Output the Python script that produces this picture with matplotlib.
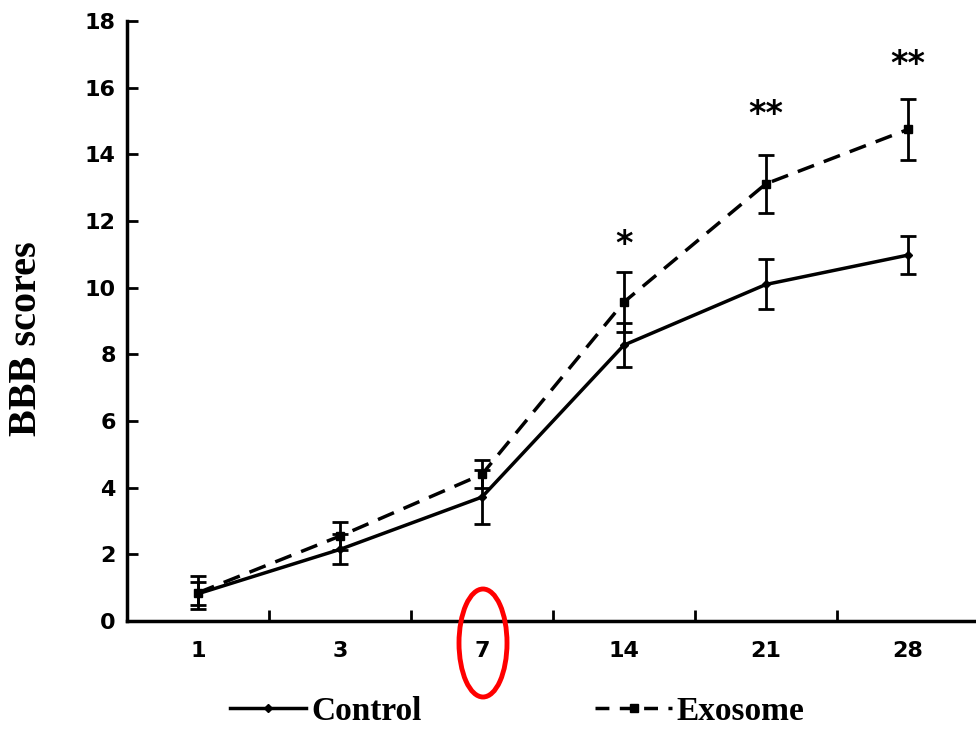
import matplotlib.pyplot as plt
from matplotlib.patches import Ellipse
from matplotlib.lines import Line2D

# Data
days = ['1', '3', '7', '14', '21', '28']
control = [0.82, 2.15, 3.72, 8.28, 10.1, 10.98]
control_err = [0.35, 0.45, 0.8, 0.65, 0.75, 0.58]
exosome = [0.85, 2.55, 4.4, 9.57, 13.12, 14.75]
exosome_err = [0.5, 0.42, 0.42, 0.9, 0.87, 0.92]
stars = ['', '', '', '*', '**', '**']
star_y = [0, 0, 0, 11.3, 15.2, 16.7]

fig = plt.figure(figsize=(9.76, 7.29), dpi=100)
ax = fig.add_axes([0.130, 0.148, 0.873, 0.823])

x = list(range(len(days)))

ax.errorbar(x, control, yerr=control_err, color='black', linestyle='-', linewidth=2.5,
            marker='D', markersize=4, capsize=6, elinewidth=2, capthick=2)
ax.errorbar(x, exosome, yerr=exosome_err, color='black', linestyle=(0, (5, 3)), linewidth=2.5,
            marker='s', markersize=6, capsize=6, elinewidth=2, capthick=2)

# significance marks
for xi, s, sy in zip(x, stars, star_y):
    if s:
        ax.text(xi, sy, s, ha='center', va='center', fontsize=24, fontweight='bold')

ax.set_xlim(-0.5, len(days) - 0.5)
ax.set_ylim(0, 18)
ax.set_yticks(range(0, 19, 2))
ax.set_yticklabels([str(v) for v in range(0, 19, 2)], fontsize=16, fontweight='bold')

# category labels at centres, tick marks on boundaries
ax.set_xticks([i + 0.5 for i in range(len(days) - 1)])
ax.set_xticklabels([])
ax.set_xticks(x, minor=True)
ax.set_xticklabels(days, minor=True, fontsize=16, fontweight='bold')
ax.tick_params(axis='x', which='major', direction='in', length=8, width=2)
ax.tick_params(axis='x', which='minor', length=0, pad=14)
ax.tick_params(axis='y', direction='in', length=8, width=2, pad=8)

for side in ['top', 'right']:
    ax.spines[side].set_visible(False)
for side in ['left', 'bottom']:
    ax.spines[side].set_linewidth(2.5)

ax.set_ylabel('BBB scores', family='Liberation Serif', fontsize=29, fontweight='bold')
ax.yaxis.set_label_coords(-0.096, 0.47)

# legend
handles = [Line2D([], [], color='black', linestyle='-', linewidth=2.5, marker='D', markersize=4),
           Line2D([], [], color='black', linestyle=(0, (4, 3)), linewidth=2.5, marker='s', markersize=6)]
fig.legend(handles, ['Control', 'Exosome'], loc='lower center', bbox_to_anchor=(0.53, -0.038),
           ncol=2, frameon=False, columnspacing=5.2, handlelength=2.3, handletextpad=0.15,
           prop={'family': 'Liberation Serif', 'weight': 'bold', 'size': 24})

# red ellipse around day 7
ell = Ellipse((483 / 976, 1 - 643 / 729), 48 / 976, 108 / 729, transform=fig.transFigure,
              fill=False, edgecolor='red', linewidth=3.5, clip_on=False)
fig.patches.append(ell)

fig.savefig('out.png', dpi=100)
